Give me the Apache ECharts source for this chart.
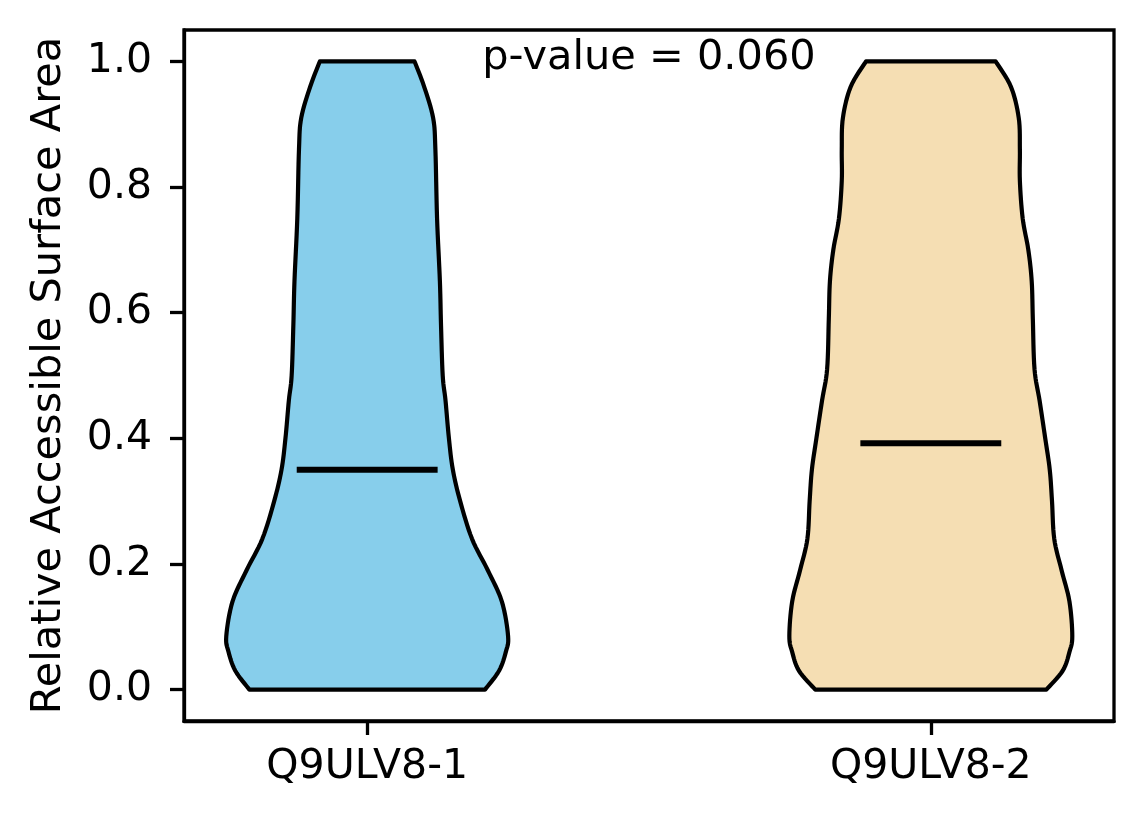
<!DOCTYPE html>
<html>
<head>
<meta charset="utf-8">
<script src="https://cdn.jsdelivr.net/npm/echarts@6/dist/echarts.min.js"></script>
<style>
html,body{margin:0;padding:0;background:#fff;}
#main{width:1144px;height:824px;}
</style>
</head>
<body>
<div id="main"></div>
<script>
// 两组蛋白的相对可及表面积 (violin)
var names = ['Q9ULV8-1', 'Q9ULV8-2'];
var positions = [1, 2];
var colors = ['#87CEEB', '#F5DEB3'];
var yTicks = [0, 0.2, 0.4, 0.6, 0.8, 1.0];
var pText = 'p-value = 0.060';

// 轮廓: y 值 与 半宽 (x 轴单位)
var leftY = [0, 0.03, 0.06, 0.085, 0.14, 0.19, 0.24, 0.30, 0.35, 0.40, 0.46, 0.50, 0.58, 0.65, 0.75, 0.86, 0.91, 0.96, 1.0];
var leftW = [0.209, 0.234, 0.246, 0.250, 0.239, 0.214, 0.186, 0.165, 0.152, 0.145, 0.139, 0.134, 0.131, 0.129, 0.124, 0.121, 0.117, 0.101, 0.084];
var rightY = [0, 0.03, 0.06, 0.085, 0.14, 0.19, 0.24, 0.30, 0.35, 0.40, 0.46, 0.51, 0.59, 0.65, 0.70, 0.75, 0.81, 0.86, 0.91, 0.96, 1.0];
var rightW = [0.205, 0.234, 0.246, 0.251, 0.246, 0.232, 0.219, 0.215, 0.211, 0.203, 0.193, 0.184, 0.181, 0.179, 0.173, 0.163, 0.158, 0.158, 0.156, 0.142, 0.115];
var means = [0.350, 0.392];

var profiles = [[leftY, leftW], [rightY, rightW]];
var font = 'DejaVu Sans';

// catmull-rom 平滑 (只用于绘制)
function smoothSide(p){
	var out = [p[0]], n = p.length, steps = 8;
	for (var i = 0; i < n - 1; i++){
		var p0 = p[Math.max(i - 1, 0)], p1 = p[i], p2 = p[i + 1], p3 = p[Math.min(i + 2, n - 1)];
		for (var s = 1; s <= steps; s++){
			var t = s / steps, t2 = t * t, t3 = t2 * t;
			out.push([0, 1].map(function(d){
				return 0.5 * ((2 * p1[d]) + (-p0[d] + p2[d]) * t + (2 * p0[d] - 5 * p1[d] + 4 * p2[d] - p3[d]) * t2 + (-p0[d] + 3 * p1[d] - 3 * p2[d] + p3[d]) * t3);
			}));
		}
	}
	return out;
}

function renderViolin(params, api){
	var i = params.dataIndex;
	var pos = api.value(0);
	var ys = profiles[i][0], ws = profiles[i][1];
	var rightSide = [], leftSide = [];
	for (var k = 0; k < ys.length; k++){
		rightSide.push(api.coord([pos + ws[k], ys[k]]));
		leftSide.push(api.coord([pos - ws[k], ys[k]]));
	}
	var pts = smoothSide(rightSide).concat(smoothSide(leftSide).reverse());
	var m1 = api.coord([pos - 0.125, api.value(1)]);
	var m2 = api.coord([pos + 0.125, api.value(1)]);
	return {
		type: 'group',
		children: [
			{type: 'polygon', shape: {points: pts}, style: {fill: colors[i], stroke: '#000', lineWidth: 4.2, lineJoin: 'round'}},
			{type: 'line', shape: {x1: m1[0], y1: m1[1], x2: m2[0], y2: m2[1]}, style: {stroke: '#000', lineWidth: 6}}
		]
	};
}

var chart = echarts.init(document.getElementById('main'));
var option = {
	animation: false,
	grid: {left: 184, right: 30, top: 30, bottom: 103, show: true, borderColor: '#000', borderWidth: 3.3, backgroundColor: 'transparent'},
	xAxis: {
		type: 'value', min: 0.675, max: 2.325,
		splitLine: {show: false},
		axisLine: {show: true, onZero: false, lineStyle: {color: '#000', width: 3.3}},
		axisTick: {show: true, length: 14, lineStyle: {color: '#000', width: 3.3}, customValues: positions},
		axisLabel: {customValues: positions, color: '#000', fontFamily: font, fontSize: 41, margin: 26,
			formatter: function(v){ return names[positions.indexOf(Math.round(v))] || ''; }}
	},
	yAxis: {
		type: 'value', min: -0.05, max: 1.05,
		name: 'Relative Accessible Surface Area',
		nameLocation: 'middle', nameGap: 114,
		nameTextStyle: {color: '#000', fontFamily: font, fontSize: 41.5},
		splitLine: {show: false},
		axisLine: {show: true, onZero: false, lineStyle: {color: '#000', width: 3.3}},
		axisTick: {show: true, length: 14, lineStyle: {color: '#000', width: 3.3}, customValues: yTicks},
		axisLabel: {customValues: yTicks, color: '#000', fontFamily: font, fontSize: 41, margin: 32,
			formatter: function(v){ return v.toFixed(1); }}
	},
	graphic: [{
		type: 'text', x: 649, y: 58,
		style: {text: pText, fill: '#000', font: '41.5px "DejaVu Sans"', align: 'center', verticalAlign: 'middle'}
	}],
	series: [{
		type: 'custom',
		renderItem: renderViolin,
		data: positions.map(function(p, i){ return [p, means[i]]; }),
		encode: {x: 0, y: 1}
	}]
};
chart.setOption(option);
</script>
</body>
</html>
